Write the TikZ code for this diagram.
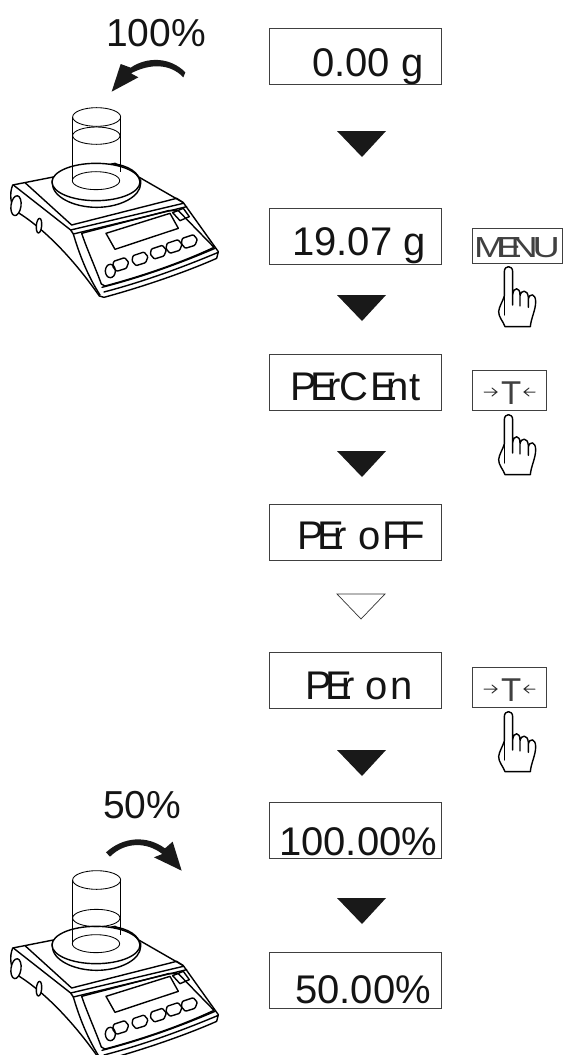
\documentclass[tikz,border=0pt]{standalone}
\usepackage{graphicx}
\usepackage{fontspec}
\setmainfont{Liberation Sans}
\newcommand{\scalebody}[1]{%
  \begin{scope}[line width=1.4pt,line join=round,line cap=round]
  % body
  \draw[fill=white] (38,555) -- (165,530) -- (345,490) -- (550,608) -- (655,755) -- (650,775)
     .. controls (560,815) and (430,860) .. (312,892) -- (298,888)
     .. controls (230,790) and (140,690) .. (50,635) .. controls (30,615) and (28,580) .. (38,555) -- cycle;
  \draw (40,555) -- (212,690) -- (550,610);
  \draw (75,548) -- (215,675) -- (530,595) -- (550,608);
  \draw (212,690) -- (220,702) -- (560,620);
  \draw (220,702) .. controls (240,770) and (265,830) .. (300,885);
  \draw (245,700) -- (505,632) -- (535,632) -- (642,742)
     .. controls (540,790) and (420,830) .. (315,858) -- (304,852) .. controls (285,800) and (262,750) .. (245,700) -- cycle;
  \draw (312,876) .. controls (430,845) and (540,805) .. (655,757);
  \draw (306,862) .. controls (430,830) and (540,790) .. (645,745);
  \draw (318,700) -- (510,640) -- (535,685) -- (345,748) -- cycle;
  \draw (518,638) -- (550,625) -- (568,650) -- (540,662) -- cycle;
  \foreach \bx/\by in {362/792,420/775,475/755,522/738,568/723}
    \draw[rounded corners=1pt] (\bx-21,\by-8) -- (\bx+12,\by-19) -- (\bx+24,\by-5) -- (\bx+17,\by+13) -- (\bx-12,\by+22) -- (\bx-24,\by+8) -- cycle;
  \draw (331,813) ellipse (15 and 20);
  % side knobs
  \draw[fill=white,rotate around={-8:(48,617)}] (48,617) ellipse (15 and 30);
  \draw[fill=white,rotate around={-5:(117,677)}] (117,677) ellipse (8 and 22);
  % pan
  \draw[fill=white] (157,550) .. controls (157,590) and (220,622) .. (290,622) .. controls (360,622) and (422,590) .. (422,550) -- (422,540) -- (157,540) -- cycle;
  \draw[fill=white] (288,546) ellipse (132 and 56);
  \end{scope}
  % glass
  \begin{scope}[line width=.85pt]
  \draw (288,542) ellipse (71 and 27);
  \draw (218,351) -- (218,542);
  \draw (362,351) -- (362,515);
  \draw (290,351) ellipse (72 and 28);
  \draw (289,#1) ellipse (71 and 26);
  \draw[line width=1.4pt] (335,491) .. controls (385,495) and (420,520) .. (420,546);
  \end{scope}
}
\newcommand{\handshape}{%
  \begin{scope}[line width=1.4pt,line join=round,line cap=round]
  \draw (163,258) -- (163,185) .. controls (163,165) and (188,165) .. (188,185) -- (188,285)
    (188,255) .. controls (190,230) and (210,230) .. (210,255) -- (210,288)
    (210,258) .. controls (213,238) and (233,238) .. (235,262) -- (235,292)
    (235,268) .. controls (238,248) and (257,250) .. (257,275)
    .. controls (257,300) and (243,325) .. (241,350) -- (165,350)
    .. controls (160,335) and (145,320) .. (146,305) .. controls (147,290) and (158,275) .. (163,258);
  \draw (163,262) -- (163,315);
  \end{scope}
}
\tikzset{
  display/.style={draw=black!75,line width=1pt,fill=white,minimum width=172pt,minimum height=56pt,inner sep=0,anchor=north west},
  readout/.style={anchor=base west,inner sep=0,font=\fontsize{40}{40}\selectfont,text=black!92},
  keytext/.style={anchor=base west,inner sep=0,text=black!75},
  btn/.style={draw=black!75,line width=.9pt,inner sep=0,anchor=north west},
  solidtri/.style={fill=black!90,draw=none},
  opentri/.style={draw=black!80,line width=.7pt,fill=white},
  tick/.style={black!80,line width=1pt,line cap=round}
}
\begin{document}
\begin{tikzpicture}[x=1pt,y=-1pt]
\useasboundingbox (0,0) rectangle (563,1055);
% scales
\begin{scope}[scale=1/3]\scalebody{407}\end{scope}
\begin{scope}[shift={(0,763)},scale=1/3]\scalebody{465}\end{scope}
% displays
\node[display] (d1) at (269,28) {};
\node[display] (d2) at (269,208) {};
\node[display] (d3) at (269,354) {};
\node[display] (d4) at (269,504) {};
\node[display] (d5) at (269,652) {};
\node[display] (d6) at (269,802) {};
\node[display] (d7) at (269,952) {};
\node[readout] (t1) at (312,76) {0.00 g};
\node[readout] (t2) at (292,255) {19.07 g};
\node[readout] (t3) at (290,400) {P\kern-6.5pt E\kern-10pt r\kern-1pt C\kern2.5pt E\kern-11pt n\kern0.5pt t};
\node[readout] (t4) at (297,549) {P\kern-6.7pt E\kern-10.5pt r\kern11.5pt o\kern1.8pt F\kern-6.4pt F};
\node[readout] (t5) at (305,699) {P\kern-6.7pt E\kern-10.5pt r\kern10.5pt o\kern3pt n};
\node[readout] (t6) at (279,855) {100.00\%};
\node[readout] (t7) at (295,1003) {50.00\%};
\node[readout,font=\fontsize{39}{39}\selectfont] (p1) at (106,46) {100\%};
\node[readout,font=\fontsize{39}{39}\selectfont] (p2) at (103,818) {50\%};
% triangles
\foreach \ty in {131,295,451,750,898}
  \fill[solidtri] (337,\ty) -- (386,\ty) -- (362,\ty+26) -- cycle;
\draw[opentri] (337,594) -- (385,594) -- (361,619) -- cycle;
% buttons
\node[btn,minimum width=90pt,minimum height=35pt] (b1) at (472,228) {};
\node[keytext] (b1t) at (474,257) {\scalebox{1.3}[1]{\fontsize{29}{29}\selectfont M\kern-7pt E\kern-8.5pt N\kern-4pt U}};
\node[btn,minimum width=74pt,minimum height=40pt] (b2) at (472,370) {};
\node[btn,minimum width=74pt,minimum height=40pt] (b3) at (472,667) {};
\foreach \oy/\nm in {370/a,667/b}{
  \node[keytext,font=\fontsize{33}{33}\selectfont] (tt\nm) at (501,\oy+34) {T};
  \draw[tick] (484,\oy+22) -- (497,\oy+22) (492,\oy+18) -- (497,\oy+22) -- (492,\oy+26);
  \draw[tick] (535,\oy+22) -- (524,\oy+22) (529,\oy+18) -- (524,\oy+22) -- (529,\oy+26);
}
% hands
\begin{scope}[shift={(450,210)},scale=1/3]\handshape\end{scope}
\begin{scope}[shift={(450,358)},scale=1/3]\handshape\end{scope}
\begin{scope}[shift={(450,655)},scale=1/3]\handshape\end{scope}
% curved arrows
\begin{scope}[scale=1/3]
\fill[black!90] (556,217) .. controls (510,170) and (440,170) .. (392,203) -- (362,192) -- (335,275) -- (415,232) -- (393,220) .. controls (450,190) and (510,190) .. (550,232) -- cycle;
\end{scope}
\begin{scope}[shift={(0,780)},scale=1/3]
\fill[black!90] (318,217) .. controls (370,170) and (440,165) .. (495,205) -- (518,185) -- (545,272) -- (462,232) -- (487,222) .. controls (440,185) and (375,185) .. (330,230) -- cycle;
\end{scope}
\end{tikzpicture}
\end{document}
